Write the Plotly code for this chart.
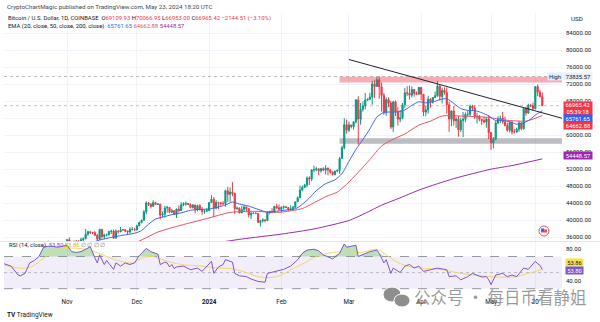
import numpy as np
import pandas as pd
import plotly.graph_objects as go

W, H = 600, 322
FONT = "Roboto, Liberation Sans, sans-serif"

# ---------------- data ----------------
first_day = "2023-10-23"

opens = [
    # Oct 23-31
    29990, 33080, 33920, 34500, 34160, 33910, 34090, 34540, 34500,
    # Nov
    34670, 35420, 34940, 34730, 35080, 35050, 35040, 35420, 35650, 36690,
    37320, 37130, 37060, 36490, 35550, 37880, 36160, 36590, 36590, 37390,
    37480, 35810, 37430, 37290, 37720, 37800, 37480, 37250, 37830, 37860,
    # Dec
    37720, 38690, 39470, 39980, 41990, 44090, 43780, 43290, 44170, 43730,
    43790, 41240, 41450, 42890, 43020, 41930, 42250, 41380, 42660, 42270,
    43650, 43870, 43990, 43740, 43020, 43610, 42520, 43440, 42580, 42070, 42140,
    # Jan
    42280, 44180, 44950, 42850, 44180, 44160, 43970, 43930, 46970, 46110,
    46630, 46340, 42780, 42850, 41730, 42500, 43150, 42740, 41260, 41620,
    41660, 41580, 39510, 39840, 40080, 39940, 41810, 42120, 42030, 43300, 42950,
    # Feb
    42580, 43080, 43190, 43010, 42580, 42660, 43090, 44340, 45300, 47150,
    47770, 48290, 49960, 49700, 51830, 51940, 52120, 51660, 52140, 51780,
    52280, 51860, 51320, 50750, 51570, 51730, 54520, 57090, 62500,
    # Mar
    61200, 62440, 62030, 63170, 68330, 63800, 66100, 66920, 68300, 68500,
    69020, 72100, 71480, 73080, 71400, 69400, 65300, 68390, 67600, 61940,
    67850, 65500, 63800, 64100, 67200, 70000, 69900, 69450, 70780, 69890, 69650,
    # Apr
    71280, 69650, 65460, 65970, 68500, 67830, 68900, 69360, 71620, 69140,
    70590, 70060, 67190, 63820, 65740, 63420, 63810, 61280, 63470, 63790,
    64940, 64960, 66840, 66410, 64280, 64480, 63770, 63460, 63120, 63840,
    # May 1-23
    60620, 58250, 59120, 62890, 63890, 64030, 63160, 62310, 61190, 63050,
    60790, 60790, 61450, 62900, 61550, 66250, 65230, 67050, 66940, 66270,
    71450, 70140, 69109.93,
]
highs = [
    34000, 35200, 35100, 34800, 34480, 34460, 34740, 34850, 34720,
    35580, 35980, 34950, 35250, 35380, 35300, 35900, 35990, 37970, 37530,
    37420, 37240, 37430, 36760, 37980, 37940, 36850, 36870, 37520, 37770,
    37840, 37870, 37670, 38420, 37910, 37830, 37590, 38400, 38440, 38170,
    38980, 39700, 40200, 42420, 44480, 44300, 44060, 44720, 44380, 44040,
    43810, 42080, 43430, 43400, 43090, 42700, 42420, 42740, 43480, 44290,
    44240, 44390, 44020, 43940, 43800, 43620, 43680, 43800, 43120, 42600, 42900,
    44200, 45900, 45500, 44730, 44350, 44230, 44480, 47240, 47900, 47690,
    48970, 46500, 43250, 43080, 43400, 43570, 43200, 42930, 42200, 41870,
    41880, 41680, 40120, 40500, 40290, 42200, 42200, 42840, 43310, 43880, 43740,
    43290, 43480, 43380, 43120, 43530, 43390, 44370, 45600, 48200, 48150,
    48580, 50300, 50370, 52000, 52830, 52580, 52180, 52350, 52490, 52980,
    52380, 52020, 51550, 51680, 51960, 54900, 57550, 64000, 63680,
    63160, 62450, 63230, 68530, 69200, 67600, 67980, 69950, 68600, 70000,
    72800, 72900, 73650, 73835.57, 72400, 70000, 68900, 68950, 68100, 68100,
    68200, 66600, 65950, 67600, 71100, 71550, 71700, 71500, 70900, 70300, 71350,
    71300, 69700, 66900, 69300, 68700, 69000, 70300, 72800, 71760, 71200,
    71300, 71250, 67930, 65850, 66900, 64400, 64500, 64100, 65450, 65400,
    65700, 67250, 67200, 67100, 65300, 64800, 63900, 64400, 64200, 64700,
    60800, 59600, 63300, 64500, 64600, 65500, 64400, 62950, 63400, 63450,
    61500, 61800, 63450, 63100, 66450, 66700, 67450, 67400, 67700, 71500,
    71950, 70650, 70066.95,
]
lows = [
    29900, 32900, 33700, 33750, 33400, 33860, 33950, 34080, 34080,
    34120, 34360, 34120, 34560, 34560, 34760, 34560, 35110, 35570, 36350,
    36740, 36770, 36330, 34960, 35360, 35700, 35560, 36200, 36400, 36750,
    35650, 35650, 36880, 37260, 37600, 37170, 36730, 36880, 37600, 37500,
    37630, 38650, 39270, 39980, 41420, 43350, 42830, 43100, 43590, 43590,
    40230, 40710, 40620, 41800, 41680, 41700, 41250, 40550, 41850, 42200,
    43310, 43400, 43590, 42790, 42750, 41650, 42100, 42320, 41320, 41530, 41980,
    42180, 44150, 40750, 42630, 42620, 43430, 43600, 43200, 44330, 44350,
    45650, 41520, 42440, 41700, 41730, 42050, 42200, 40670, 40280, 41470,
    41500, 39460, 38550, 39480, 39500, 39820, 41400, 41640, 41800, 42700, 42300,
    41880, 42580, 42890, 42220, 42260, 42580, 42790, 44340, 45250, 46850,
    47630, 47730, 48300, 49250, 51330, 51570, 50620, 51190, 51680, 50770,
    50600, 50950, 50550, 50600, 51290, 50920, 54450, 56700, 60370,
    60800, 61630, 61330, 62800, 57800, 62500, 65570, 66110, 68050, 68200,
    67200, 68800, 71350, 68600, 65600, 64800, 64600, 66600, 61500, 60800,
    64550, 62300, 63100, 63800, 66400, 69250, 68400, 68900, 69100, 69500, 69600,
    68200, 64500, 64500, 65100, 66500, 67450, 68800, 69040, 68200, 67500,
    69550, 65100, 60800, 62150, 62300, 61700, 59700, 60800, 59600, 63100,
    64250, 64500, 65850, 63800, 62800, 63300, 62400, 62800, 61800, 59100,
    56550, 56900, 58800, 62600, 62900, 62700, 62100, 60850, 60650, 60200,
    60450, 60600, 60800, 61150, 61350, 64600, 65100, 66600, 65850, 66100,
    69200, 68900, 66953.00,
]
closes = [
    33080, 33920, 34500, 34160, 33910, 34090, 34540, 34500, 34670,
    35420, 34940, 34730, 35080, 35050, 35040, 35420, 35650, 36690, 37320,
    37130, 37060, 36490, 35550, 37880, 36160, 36590, 36590, 37390, 37480,
    35810, 37430, 37290, 37720, 37800, 37480, 37250, 37830, 37860, 37720,
    38690, 39470, 39980, 41990, 44090, 43780, 43290, 44170, 43730, 43790,
    41240, 41450, 42890, 43020, 41930, 42250, 41380, 42660, 42270, 43650,
    43870, 43990, 43740, 43020, 43610, 42520, 43440, 42580, 42070, 42140, 42280,
    44180, 44950, 42850, 44180, 44160, 43970, 43930, 46970, 46110, 46630,
    46340, 42780, 42850, 41730, 42500, 43150, 42740, 41260, 41620, 41660,
    41580, 39510, 39840, 40080, 39940, 41810, 42120, 42030, 43300, 42950, 42580,
    43080, 43190, 43010, 42580, 42660, 43090, 44340, 45300, 47150, 47770,
    48290, 49960, 49700, 51830, 51940, 52120, 51660, 52140, 51780, 52280,
    51860, 51320, 50750, 51570, 51730, 54520, 57090, 62500, 61200,
    62440, 62030, 63170, 68330, 63800, 66100, 66920, 68300, 68500, 69020,
    72100, 71480, 73080, 71400, 69400, 65300, 68390, 67600, 61940, 67850,
    65500, 63800, 64100, 67200, 70000, 69900, 69450, 70780, 69890, 69650, 71280,
    69650, 65460, 65970, 68500, 67830, 68900, 69360, 71620, 69140, 70590,
    70060, 67190, 63820, 65740, 63420, 63810, 61280, 63470, 63790, 64940,
    64960, 66840, 66410, 64280, 64480, 63770, 63460, 63120, 63840, 60620,
    58250, 59120, 62890, 63890, 64030, 63160, 62310, 61190, 63050, 60790,
    60790, 61450, 62900, 61550, 66250, 65230, 67050, 66940, 66270, 71450,
    70140, 69110, 66965.42,
]

ema20_dates = [
    "2023-11-05", "2023-11-10", "2023-11-15", "2023-11-20", "2023-11-25", "2023-11-30",
    "2023-12-03", "2023-12-06", "2023-12-09", "2023-12-12", "2023-12-16", "2023-12-20", "2023-12-24", "2023-12-28",
    "2024-01-01", "2024-01-04", "2024-01-08", "2024-01-11", "2024-01-14", "2024-01-18", "2024-01-22", "2024-01-26", "2024-01-30",
    "2024-02-03", "2024-02-07", "2024-02-10", "2024-02-13", "2024-02-16", "2024-02-20", "2024-02-24", "2024-02-27",
    "2024-03-01", "2024-03-04", "2024-03-07", "2024-03-10", "2024-03-13", "2024-03-16", "2024-03-19", "2024-03-22", "2024-03-25", "2024-03-28", "2024-03-31",
    "2024-04-03", "2024-04-06", "2024-04-09", "2024-04-12", "2024-04-15", "2024-04-18", "2024-04-21", "2024-04-24", "2024-04-27", "2024-04-30",
    "2024-05-03", "2024-05-06", "2024-05-09", "2024-05-12", "2024-05-15", "2024-05-18", "2024-05-20", "2024-05-23",
]
ema20_values = [
    33260, 34394, 35351, 35965, 36487, 36945,
    37588, 39080, 40289, 40754, 41324, 41735, 42356, 42571,
    42630, 42978, 43601, 44319, 43826, 43343, 42574, 41887, 42137,
    42416, 42689, 43761, 45213, 46965, 48620, 49523, 50983,
    53851, 56670, 59014, 61507, 64293, 65383, 65480, 65507, 65971, 67035, 67887,
    67633, 67838, 68407, 68604, 67490, 66286, 65849, 65826, 65318, 64572,
    63449, 63506, 63170, 62616, 62892, 63818, 64756, 65761.65,
]
ema50_dates = [
    "2023-10-31", "2023-11-10", "2023-11-20", "2023-11-30", "2023-12-10", "2023-12-20", "2023-12-31",
    "2024-01-10", "2024-01-20", "2024-01-31",
    "2024-02-10", "2024-02-20", "2024-02-25", "2024-02-29",
    "2024-03-05", "2024-03-10", "2024-03-15", "2024-03-20", "2024-03-25", "2024-03-31",
    "2024-04-05", "2024-04-10", "2024-04-20", "2024-04-30",
    "2024-05-05", "2024-05-10", "2024-05-16", "2024-05-20", "2024-05-23",
]
ema50_values = [
    29551, 31514, 33285, 34633, 37229, 38860, 40405,
    41855, 42122, 41876,
    42775, 45545, 46630, 48460,
    51290, 54310, 57490, 59080, 60320, 62400,
    63330, 64540, 64490, 64200,
    63725, 63430, 63340, 64013, 64662.88,
]
ema200_dates = [
    "2023-12-01", "2023-12-15", "2024-01-01", "2024-01-15", "2024-02-01", "2024-02-15",
    "2024-03-01", "2024-03-08", "2024-03-15", "2024-03-22", "2024-04-01", "2024-04-15",
    "2024-05-01", "2024-05-10", "2024-05-23",
]
ema200_values = [
    31353, 32740, 34407, 35595, 36753, 37961,
    39955, 41650, 43552, 45069, 47304, 49811,
    52026, 52883, 54448.57,
]

rsi_dates = [
    "2023-10-05", "2023-10-08", "2023-10-11", "2023-10-12", "2023-10-14", "2023-10-16", "2023-10-18", "2023-10-20",
    "2023-10-22", "2023-10-25", "2023-10-28", "2023-10-30",
    "2023-11-01", "2023-11-03", "2023-11-05", "2023-11-07", "2023-11-10", "2023-11-11", "2023-11-13", "2023-11-14",
    "2023-11-15", "2023-11-17", "2023-11-18", "2023-11-21", "2023-11-22", "2023-11-24", "2023-11-26", "2023-11-28", "2023-11-30",
    "2023-12-02", "2023-12-05", "2023-12-07", "2023-12-09", "2023-12-10", "2023-12-11", "2023-12-13", "2023-12-14",
    "2023-12-15", "2023-12-16", "2023-12-17", "2023-12-18", "2023-12-21", "2023-12-24", "2023-12-27", "2023-12-29",
    "2024-01-02", "2024-01-03", "2024-01-05", "2024-01-07", "2024-01-08", "2024-01-10", "2024-01-11", "2024-01-12",
    "2024-01-14", "2024-01-17", "2024-01-19", "2024-01-22", "2024-01-25", "2024-01-26", "2024-01-29",
    "2024-02-02", "2024-02-05", "2024-02-08", "2024-02-10", "2024-02-12", "2024-02-15", "2024-02-17", "2024-02-19",
    "2024-02-23", "2024-02-26", "2024-02-28", "2024-02-29",
    "2024-03-02", "2024-03-04", "2024-03-05", "2024-03-08", "2024-03-10", "2024-03-13", "2024-03-14", "2024-03-16",
    "2024-03-17", "2024-03-19", "2024-03-20", "2024-03-23", "2024-03-25", "2024-03-27", "2024-03-29", "2024-03-31",
    "2024-04-02", "2024-04-05", "2024-04-08", "2024-04-12", "2024-04-13", "2024-04-16", "2024-04-18", "2024-04-21",
    "2024-04-23", "2024-04-27", "2024-04-29", "2024-04-30",
    "2024-05-01", "2024-05-03", "2024-05-06", "2024-05-08", "2024-05-10", "2024-05-12", "2024-05-15", "2024-05-17",
    "2024-05-20", "2024-05-21", "2024-05-22", "2024-05-23",
]
rsi_values = [
    61, 58, 47, 46, 49, 62, 65, 70,
    82, 83, 81.5, 83,
    84, 76, 75, 76, 80, 82, 68, 62,
    72, 60, 65, 54, 62, 58, 62, 60, 62,
    71, 80, 76, 74, 73, 60, 63, 62,
    57, 60, 55, 57, 58, 53.5, 55.6, 51.5,
    64, 49, 57, 60, 66, 64, 63, 49,
    46, 45, 42, 39, 38, 49, 51.5,
    54, 58, 66, 74, 78, 79, 77, 72,
    67, 74, 85.6, 81.5,
    83, 84, 70, 74, 76, 78, 74, 62,
    66, 49, 55.6, 50, 58, 60, 55.6, 58,
    51.5, 53.5, 55.6, 53.5, 45, 46, 41, 45,
    49, 44.5, 45, 41,
    35, 47, 49, 45, 47, 45, 55.6, 54,
    64, 61, 59, 53.80,
]
rsi_ma_dates = [
    "2023-10-05", "2023-10-12", "2023-10-17", "2023-10-23", "2023-10-31", "2023-11-06", "2023-11-11",
    "2023-11-18", "2023-11-24", "2023-11-29", "2023-12-04", "2023-12-08", "2023-12-12", "2023-12-20", "2023-12-29",
    "2024-01-05", "2024-01-10", "2024-01-16", "2024-01-22", "2024-01-28", "2024-02-01", "2024-02-06", "2024-02-11",
    "2024-02-16", "2024-02-23", "2024-02-29", "2024-03-06", "2024-03-13", "2024-03-16", "2024-03-21", "2024-03-26",
    "2024-04-01", "2024-04-10", "2024-04-18", "2024-04-26", "2024-05-04", "2024-05-11", "2024-05-17", "2024-05-23",
]
rsi_ma_values = [
    59.5, 55.4, 57.5, 70, 80, 80, 78,
    70, 64, 62, 69, 70, 66, 60, 58,
    55.6, 55, 51, 45, 44, 47, 55, 62,
    70, 75, 76, 75, 79, 74, 64, 58,
    55.6, 53.5, 49, 46, 44.5, 44.5, 49, 53.86,
]

resistance_zone = [72400, 73800]
support_zone = [58000, 59300]
zone_start = "2024-02-26"
trend_dates = ["2024-03-01", "2024-05-31 10:00"]
trend_prices = [77835, 64020]
all_time_high = 73835.57
last_close = 66965.42

month_ticks = ["2023-11-01", "2023-12-01", "2024-01-01", "2024-02-01", "2024-03-01",
               "2024-04-01", "2024-05-01", "2024-05-20"]
month_labels = ["Nov", "Dec", "<b>2024</b>", "Feb", "Mar", "Apr", "May", "20"]
price_ticks = [36000, 40000, 44000, 48000, 52000, 56000, 60000, 64000, 68000,
               72000, 76000, 80000, 84000]
price_tick_labels = ["36000.00", "40000.00", "44000.00", "48000.00", "52000.00",
                     "56000.00", "60000.00", "64000.00", "68000.00", "72000.00",
                     "76000.00", "80000.00", "84000.00"]
rsi_ticks = [40, 80]
rsi_tick_labels = ["40.00", "80.00"]

# ---------------- layout geometry (pixels) ----------------
PLOT_L, PLOT_R = 4, 562
PRICE_T, PRICE_B = 13, 241
RSI_T, RSI_B = 242, 296
price_range = [35129, 88776]
rsi_range = [20.9, 88.0]
x_start = pd.Timestamp("2023-11-01") - pd.Timedelta(days=27.04)
x_end = pd.Timestamp("2023-11-01") + pd.Timedelta(days=212.45)

def px(x):
    return x / W

def py(y):
    return 1 - y / H

GREEN, RED = "#089981", "#F23645"
BLUE, EMA_RED, PURPLE = "#3D66E8", "#E35464", "#9C27B0"
GRID = "#F0F3FA"
TXT = "#131722"

dates = pd.date_range(first_day, periods=len(closes), freq="D")

fig = go.Figure()
fig.add_trace(go.Candlestick(
    x=dates, open=opens, high=highs, low=lows, close=closes,
    increasing=dict(line=dict(color=GREEN, width=1), fillcolor=GREEN),
    decreasing=dict(line=dict(color=RED, width=1), fillcolor=RED),
    whiskerwidth=0, xaxis="x", yaxis="y", hoverinfo="skip"))
for d, v, c in [(ema200_dates, ema200_values, PURPLE),
                (ema50_dates, ema50_values, EMA_RED),
                (ema20_dates, ema20_values, BLUE)]:
    fig.add_trace(go.Scatter(x=d, y=v, mode="lines", xaxis="x", yaxis="y",
                             line=dict(color=c, width=1, shape="spline", smoothing=0.6),
                             hoverinfo="skip"))

# RSI pane
fig.add_trace(go.Scatter(x=rsi_dates, y=[70] * len(rsi_dates), mode="lines",
                         line=dict(width=0, color="rgba(0,0,0,0)"), xaxis="x2", yaxis="y2",
                         hoverinfo="skip"))
fig.add_trace(go.Scatter(x=rsi_dates, y=np.maximum(np.array(rsi_values), 70), mode="lines",
                         line=dict(width=0, color="rgba(0,0,0,0)"), fill="tonexty",
                         fillcolor="rgba(76,175,80,0.38)", xaxis="x2", yaxis="y2", hoverinfo="skip"))
fig.add_trace(go.Scatter(x=rsi_ma_dates, y=rsi_ma_values, mode="lines", xaxis="x2", yaxis="y2",
                         line=dict(color="#F2D66B", width=1, shape="spline", smoothing=0.8),
                         hoverinfo="skip"))
fig.add_trace(go.Scatter(x=rsi_dates, y=rsi_values, mode="lines", xaxis="x2", yaxis="y2",
                         line=dict(color="#7E57C2", width=1), hoverinfo="skip"))

shapes = [
    dict(type="rect", xref="x", yref="y", x0=zone_start, x1=x_end,
         y0=resistance_zone[0], y1=resistance_zone[1],
         fillcolor="rgba(242,54,69,0.42)", line=dict(width=0), layer="between"),
    dict(type="rect", xref="x", yref="y", x0=zone_start, x1=x_end,
         y0=support_zone[0], y1=support_zone[1],
         fillcolor="rgba(120,123,134,0.5)", line=dict(width=0), layer="between"),
    dict(type="line", xref="x", yref="y", x0=x_start, x1=x_end, y0=all_time_high, y1=all_time_high,
         line=dict(color="rgba(140,130,130,0.55)", width=1, dash="dot"), layer="between"),
    dict(type="line", xref="x", yref="y", x0=x_start, x1=x_end, y0=last_close, y1=last_close,
         line=dict(color="rgba(200,120,120,0.55)", width=1, dash="dot"), layer="between"),
    dict(type="line", xref="x", yref="y", x0=trend_dates[0], x1=trend_dates[1],
         y0=trend_prices[0], y1=trend_prices[1], line=dict(color="#1E222D", width=1), layer="above"),
    # RSI band and levels
    dict(type="rect", xref="x2", yref="y2", x0=x_start, x1=x_end, y0=30, y1=70,
         fillcolor="rgba(126,87,194,0.1)", line=dict(width=0), layer="between"),
    dict(type="line", xref="x2", yref="y2", x0=x_start, x1=x_end, y0=70, y1=70,
         line=dict(color="#9598A1", width=1, dash="dash"), layer="between"),
    dict(type="line", xref="x2", yref="y2", x0=x_start, x1=x_end, y0=50, y1=50,
         line=dict(color="rgba(149,152,161,0.6)", width=1, dash="dot"), layer="between"),
    dict(type="line", xref="x2", yref="y2", x0=x_start, x1=x_end, y0=30, y1=30,
         line=dict(color="#9598A1", width=1, dash="dash"), layer="between"),
    # pane separator
    dict(type="line", xref="paper", yref="paper", x0=0, x1=1, y0=py(241.5), y1=py(241.5),
         line=dict(color="#E0E3EB", width=1)),
    # WeChat-like icon of the watermark
    dict(type="circle", xref="paper", yref="paper", x0=px(383), x1=px(401), y0=py(302), y1=py(287),
         fillcolor="#8E8E8E", line=dict(color="white", width=1)),
    dict(type="circle", xref="paper", yref="paper", x0=px(394), x1=px(410), y0=py(307), y1=py(294),
         fillcolor="#8E8E8E", line=dict(color="white", width=1)),
    # event marker (flag)
    dict(type="circle", xref="paper", yref="paper", x0=px(539), x1=px(549), y0=py(236), y1=py(226),
         fillcolor="white", line=dict(color="#E35464", width=1)),
    dict(type="rect", xref="paper", yref="paper", x0=px(541), x1=px(547), y0=py(232.5), y1=py(229.5),
         fillcolor="#E35464", line=dict(width=0)),
    dict(type="rect", xref="paper", yref="paper", x0=px(541), x1=px(544), y0=py(231.5), y1=py(228.5),
         fillcolor="#2962FF", line=dict(width=0)),
]

ann = []
def text(x, y, t, size=6, color=TXT, xanchor="left", family=FONT, **kw):
    ann.append(dict(x=px(x), y=py(y), xref="paper", yref="paper", text=t, showarrow=False,
                    xanchor=xanchor, yanchor="middle", font=dict(size=size, color=color, family=family), **kw))

def box(xl, yc, t, bg, fg="white", w=28, h=7, size=5.8):
    ann.append(dict(x=px(xl), y=py(yc), xref="paper", yref="paper", text=t, showarrow=False,
                    xanchor="left", yanchor="middle", align="center", width=w, height=h,
                    bgcolor=bg, borderpad=0, font=dict(size=size, color=fg, family=FONT)))

R = "<span style='color:%s'>%s</span>"
text(5, 6.5, "CryptoChartMagic published on TradingView.com, May 23, 2024 18:20 UTC", size=6.2, color="#434651")
text(6, 19, "Bitcoin / U.S. Dollar, 1D, COINBASE  O" + R % (RED, "69109.93") + " H" + R % (RED, "70066.95")
     + " L" + R % (RED, "66953.00") + " C" + R % (RED, "66965.42") + " " + R % (RED, "−2144.51 (−3.10%)"), size=5.9)
text(6, 27, "EMA (20, close, 50, close, 200, close)  " + R % (BLUE, "65761.65") + " "
     + R % (EMA_RED, "64662.88") + " " + R % (PURPLE, "54448.57"), size=5.9)
text(577, 19, "USD", size=6.2, xanchor="center")
text(7, 245.5, "RSI (14, close)  " + R % ("#7E57C2", "53.80") + " " + R % ("#D4B106", "53.86")
     + " " + R % ("#787B86", "∅ ∅ ∅ ∅"), size=5.8)
text(5, 315, "<b>TV</b> TradingView", size=6.5, color="#131722")
text(412, 297, "公众号 · 每日币看静姐", size=16.5, color="rgba(120,120,120,0.75)",
     family="Noto Sans CJK SC")

box(547, 76.3, "High", "#E3ECFA", fg=TXT, w=14)
box(562.5, 76.3, "73835.57", "#E8EEF8", fg=TXT)
box(562.5, 108.3, "66965.42<br>05:39:18", RED, h=13)
box(562.5, 118.5, "65761.65", "#2962FF")
box(562.5, 126.0, "64662.88", RED)
box(562.5, 155.0, "54448.57", PURPLE)
box(564.5, 262.0, "53.86", "#F7E04A", fg=TXT, w=17)
box(564.5, 270.0, "53.80", "#7E57C2", w=17)

xdom = [px(PLOT_L), px(PLOT_R)]
fig.update_layout(
    width=W, height=H, margin=dict(l=0, r=0, t=0, b=0, pad=0),
    paper_bgcolor="white", plot_bgcolor="white", showlegend=False,
    font=dict(family=FONT, size=6, color=TXT),
    xaxis=dict(domain=xdom, range=[x_start, x_end], type="date", anchor="y",
               tickvals=month_ticks, showticklabels=False, showgrid=True, gridcolor=GRID,
               zeroline=False, ticks="", rangeslider=dict(visible=False), fixedrange=True),
    yaxis=dict(domain=[py(PRICE_B), py(PRICE_T)], range=price_range, side="right", anchor="x",
               tickvals=price_ticks, ticktext=price_tick_labels, showgrid=True, gridcolor=GRID,
               zeroline=False, ticks="", tickfont=dict(size=6, color=TXT), ticklabelstandoff=3),
    xaxis2=dict(domain=xdom, range=[x_start, x_end], type="date", anchor="y2",
                tickvals=month_ticks, ticktext=month_labels, showgrid=True, gridcolor=GRID,
                zeroline=False, ticks="", tickfont=dict(size=6.3, color=TXT), ticklabelstandoff=1),
    yaxis2=dict(domain=[py(RSI_B), py(RSI_T)], range=rsi_range, side="right", anchor="x2",
                tickvals=rsi_ticks, ticktext=rsi_tick_labels, showgrid=False, zeroline=False,
                ticks="", tickfont=dict(size=6, color=TXT), ticklabelstandoff=3),
    shapes=shapes, annotations=ann,
)

fig.write_html("out.html")
